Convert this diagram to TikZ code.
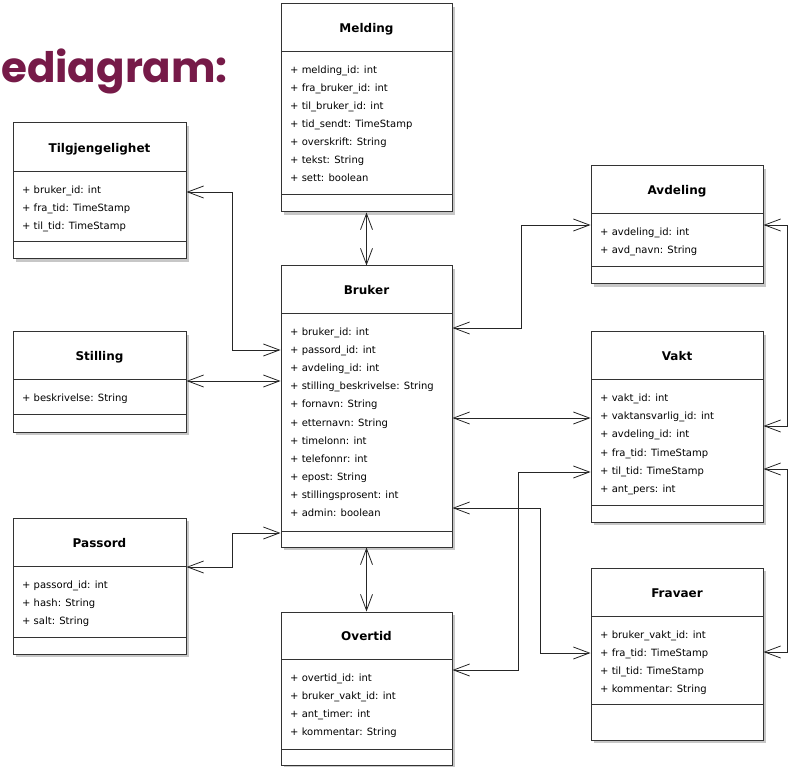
\documentclass[tikz,border=0pt]{standalone}
\usepackage{fontspec}
\setmainfont{DejaVu Sans}
\newfontfamily\titlefont{Poppins}
\usetikzlibrary{arrows.meta,fit}
\definecolor{titlecol}{HTML}{761A48}
\definecolor{boxline}{HTML}{333333}
\tikzset{
  clsbox/.style={draw=boxline, line width=1pt, fill=white, inner sep=0pt},
  clsshadow/.style={fill=black!22},
  divline/.style={draw=boxline, line width=1pt},
  clstitle/.style={font=\fontsize{12}{14}\selectfont\bfseries, anchor=base, inner sep=0pt},
  attr/.style={font=\fontsize{10}{12}\selectfont, anchor=base west, inner sep=0pt},
  >={Straight Barb[length=16pt,width=12pt]},
  assoc/.style={draw=black!85, line width=0.8pt, <->},
}
\newcommand{\umlcls}[9]{%
  \fill[clsshadow] (#2+3,#3+3) rectangle (#4+3,#5+3);
  \node[clsbox, fit={(#2,#3) (#4,#5)}] (#1) {};
  \draw[divline] (#2,#6) -- (#4,#6);
  \draw[divline] (#2,#7) -- (#4,#7);
  \node[clstitle] (#1-title) at ({(#2+#4)/2},{(#3+#6)/2+5}) {#8};
  \foreach \a [count=\i] in {#9} {\node[attr] (#1-a\i) at (#2+9,#6+4+18*\i) {\a};}
}
\begin{document}
\begin{tikzpicture}[x=1pt,y=-1pt]
\fill[white] (0,0) rectangle (793,767);
\useasboundingbox (0,0) rectangle (793,767);
\node[font=\titlefont\bfseries\fontsize{42}{50}\selectfont, text=titlecol, anchor=base west, inner sep=0pt] (title) at (1,83) {ediagram:};

\umlcls{melding}{281}{4}{452}{212}{52}{195}{Melding}{+ melding\_id: int, + fra\_bruker\_id: int, + til\_bruker\_id: int, + tid\_sendt: TimeStamp, + overskrift: String, + tekst: String, + sett: boolean}
\umlcls{tilg}{13}{123}{186}{259}{172}{242}{Tilgjengelighet}{+ bruker\_id: int, + fra\_tid: TimeStamp, + til\_tid: TimeStamp}
\umlcls{stilling}{13}{332}{186}{432}{380}{415}{Stilling}{+ beskrivelse: String}
\umlcls{passord}{13}{518}{186}{654}{566}{637}{Passord}{+ passord\_id: int, + hash: String, + salt: String}
\umlcls{bruker}{281}{266}{452}{547}{314}{531}{Bruker}{+ bruker\_id: int, + passord\_id: int, + avdeling\_id: int, + stilling\_beskrivelse: String, + fornavn: String, + etternavn: String, + timelonn: int, + telefonnr: int, + epost: String, + stillingsprosent: int, + admin: boolean}
\umlcls{overtid}{281}{612}{452}{765}{659}{749}{Overtid}{+ overtid\_id: int, + bruker\_vakt\_id: int, + ant\_timer: int, + kommentar: String}
\umlcls{avdeling}{591}{166}{763}{284}{214}{267}{Avdeling}{+ avdeling\_id: int, + avd\_navn: String}
\umlcls{vakt}{591}{332}{763}{522}{380}{505}{Vakt}{+ vakt\_id: int, + vaktansvarlig\_id: int, + avdeling\_id: int, + fra\_tid: TimeStamp, + til\_tid: TimeStamp, + ant\_pers: int}
\umlcls{fravaer}{591}{568}{763}{740}{616}{704}{Fravaer}{+ bruker\_vakt\_id: int, + fra\_tid: TimeStamp, + til\_tid: TimeStamp, + kommentar: String}

\draw[assoc] (melding.south) -- (bruker.north);
\draw[assoc] (bruker.south) -- (overtid.north);
\draw[assoc] (tilg.east |- 0,192) -- (232,192) |- (bruker.west |- 0,350);
\draw[assoc] (stilling.east |- 0,381) -- (bruker.west |- 0,381);
\draw[assoc] (passord.east |- 0,567) -- (232,567) |- (bruker.west |- 0,533);
\draw[assoc] (bruker.east |- 0,328) -- (521,328) |- (avdeling.west |- 0,225);
\draw[assoc] (bruker.east |- 0,418) -- (vakt.west |- 0,418);
\draw[assoc] (bruker.east |- 0,508) -- (540,508) |- (fravaer.west |- 0,653);
\draw[assoc] (overtid.east |- 0,670) -- (518,670) |- (vakt.west |- 0,472);
\draw[assoc] (avdeling.east |- 0,225) -- (787,225) |- (vakt.east |- 0,426);
\draw[assoc] (vakt.east |- 0,469) -- (787,469) |- (fravaer.east |- 0,652);
\end{tikzpicture}
\end{document}
